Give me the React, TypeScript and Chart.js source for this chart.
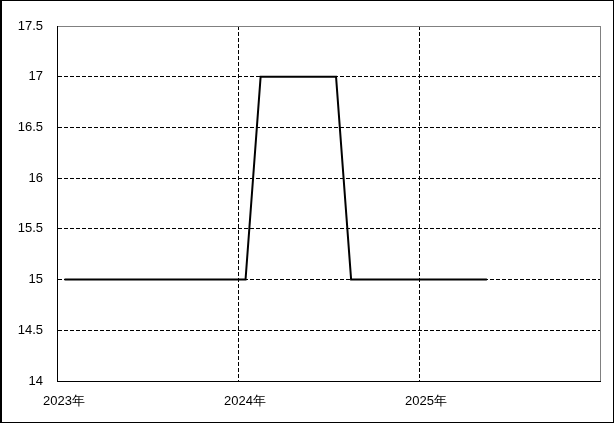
import React, { useEffect, useRef } from "react";
import { Chart, registerables } from "chart.js";

Chart.register(...registerables);

// Monthly categories (Jan 2023 – May 2025)
const months: string[] = [
  "2023-01", "2023-02", "2023-03", "2023-04", "2023-05", "2023-06",
  "2023-07", "2023-08", "2023-09", "2023-10", "2023-11", "2023-12",
  "2024-01", "2024-02", "2024-03", "2024-04", "2024-05", "2024-06",
  "2024-07", "2024-08", "2024-09", "2024-10", "2024-11", "2024-12",
  "2025-01", "2025-02", "2025-03", "2025-04", "2025-05",
];

const values: number[] = [
  15, 15, 15, 15, 15, 15, 15, 15, 15, 15, 15, 15,
  15, 17, 17, 17, 17, 17, 17, 15, 15, 15, 15, 15,
  15, 15, 15, 15, 15,
];

const yearLabels: string[] = ["2023年", "2024年", "2025年", ""];
const startYear = 2023;
const yMin = 14;
const yMax = 17.5;
const yStep = 0.5;

const FONT = { family: "'Liberation Sans', Arial, sans-serif", size: 13 };

function monthIndex(m: string): number {
  const [y, mo] = m.split("-").map(Number);
  return (y - startYear) * 12 + (mo - 1) + 0.5;
}

export default function App() {
  const ref = useRef<HTMLCanvasElement | null>(null);

  useEffect(() => {
    if (!ref.current) return;
    const data = months.map((m, i) => ({ x: monthIndex(m), y: values[i] }));
    const chart = new Chart(ref.current, {
      type: "line",
      data: {
        datasets: [
          {
            data,
            borderColor: "#000",
            borderWidth: 2,
            pointRadius: 0,
            tension: 0,
            fill: false,
          },
        ],
      },
      options: {
        animation: false,
        responsive: false,
        devicePixelRatio: 1,
        layout: { padding: { top: 26, right: 15, bottom: 0, left: 0 } },
        plugins: { legend: { display: false }, tooltip: { enabled: false } },
        scales: {
          x: {
            type: "linear",
            min: 0,
            max: yearLabels.length * 12 - 12,
            afterBuildTicks: (s: any) => {
              s.ticks = yearLabels.map((_, i) => ({ value: i * 12 }));
            },
            afterFit: (s: any) => {
              s.height = 43;
            },
            grid: {
              drawTicks: false,
              color: (c: any) => (c.tick && c.tick.value === 36 ? "#808080" : "#000"),
              lineWidth: 1,
            },
            border: {
              display: true,
              color: "#000",
              width: 1,
              dash: (c: any) => (c.tick && c.tick.value === 36 ? [] : [4, 2]),
            },
            ticks: {
              color: "#000",
              font: FONT,
              padding: 13,
              labelOffset: 7,
              maxRotation: 0,
              autoSkip: false,
              callback: (v: any) => yearLabels[Math.round(Number(v) / 12)] ?? "",
            },
          },
          y: {
            type: "linear",
            min: yMin,
            max: yMax,
            afterFit: (s: any) => {
              s.width = 57;
            },
            grid: {
              drawTicks: false,
              color: (c: any) => (c.tick && c.tick.value === yMax ? "#808080" : "#000"),
              lineWidth: 1,
            },
            border: {
              display: true,
              color: "#000",
              width: 1,
              dash: (c: any) => (c.tick && c.tick.value === yMax ? [] : [4, 2]),
            },
            ticks: {
              stepSize: yStep,
              color: "#000",
              font: FONT,
              padding: 14,
              callback: (v: any) => String(v),
            },
          },
        },
      },
    });
    return () => chart.destroy();
  }, []);

  return (
    <div style={{ position: "fixed", left: 0, top: 0, width: 615, height: 424, background: "#fff" }}>
      <canvas ref={ref} width={615} height={424} style={{ position: "absolute", left: 0, top: 0 }} />
      <div
        style={{
          position: "absolute",
          left: 0,
          top: 0,
          width: 614,
          height: 423,
          boxSizing: "border-box",
          borderTop: "1px solid #000",
          borderRight: "1px solid #000",
          borderBottom: "1px solid #000",
          borderLeft: "2px solid #000",
          pointerEvents: "none",
        }}
      />
    </div>
  );
}
